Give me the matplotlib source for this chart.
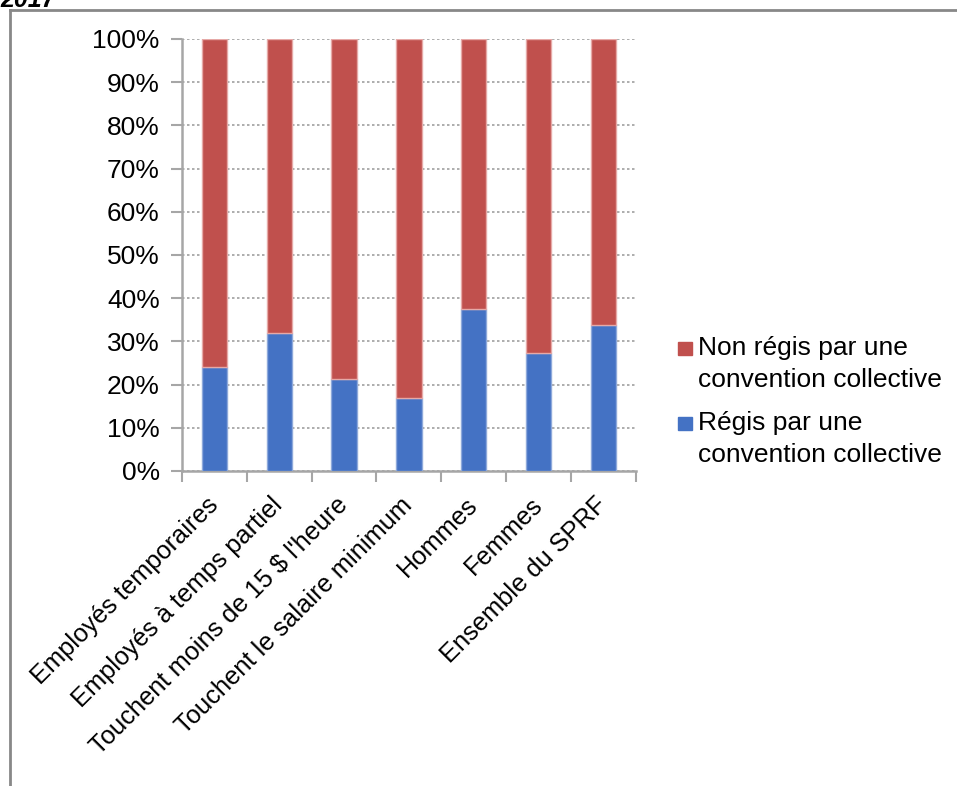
import numpy as np
import matplotlib.pyplot as plt
from matplotlib.lines import Line2D
from matplotlib.patches import Rectangle

plt.rcParams['font.family'] = ['Liberation Sans', 'DejaVu Sans']

# données
categories = ['Employés temporaires', 'Employés à temps partiel',
              'Touchent moins de 15 $ l\'heure', 'Touchent le salaire minimum',
              'Hommes', 'Femmes', 'Ensemble du SPRF']
regis = [24.0, 31.9, 21.2, 17.0, 37.6, 27.2, 33.9]
non_regis = [100 - v for v in regis]
series_labels = ['Non régis par une\nconvention collective',
                 'Régis par une\nconvention collective']
yticks = list(range(0, 101, 10))

blue = '#4472C4'
red = '#C0504D'

fig = plt.figure(figsize=(9.57, 7.86), dpi=100)
ax = fig.add_axes([0.1902, 0.4008, 0.4741, 0.5496])

x = np.arange(len(categories))
ax.bar(x, regis, width=0.39, color=blue, edgecolor='#8EA9DB', linewidth=1, zorder=3)
ax.bar(x, non_regis, width=0.39, bottom=regis, color=red, edgecolor='#E6A9A7',
       linewidth=1, zorder=3)

ax.set_xlim(-0.5, len(categories) - 0.5)
ax.set_ylim(0, 100)
ax.set_yticks(yticks)
ax.set_yticklabels([f'{t}%' for t in yticks], fontsize=19)
ax.yaxis.grid(True, linestyle=(0, (1.5, 1.5)), color='#A0A0A0', linewidth=1.2, zorder=0)

ax.set_xticks(x)
ax.set_xticklabels(categories, fontsize=18.3, rotation=45, ha='right', va='center',
                   rotation_mode='anchor')
ax.set_xticks(np.arange(len(categories) + 1) - 0.5, minor=True)
ax.tick_params(axis='x', which='major', length=0, pad=22)
ax.tick_params(axis='x', which='minor', length=8, width=1.5, color='#A6A6A6')
ax.tick_params(axis='y', length=8, width=1.5, color='#A6A6A6', pad=8)

for side in ['top', 'right']:
    ax.spines[side].set_visible(False)
for side in ['left', 'bottom']:
    ax.spines[side].set_color('#A6A6A6')
    ax.spines[side].set_linewidth(1.8)

# légende
W, H = 957, 786
leg_colors = [red, blue]
leg_tops = [342, 417]
for col, top, lab in zip(leg_colors, leg_tops, series_labels):
    fig.add_artist(Rectangle((678 / W, 1 - (top + 13) / H), 14 / W, 13 / H,
                             transform=fig.transFigure, color=col))
    fig.text(698 / W, 1 - (top - 6) / H, lab, fontsize=19, va='top', ha='left',
             linespacing=1.4)

# cadre et titre coupé
fig.add_artist(Line2D([10 / W, 1], [1 - 10 / H, 1 - 10 / H], transform=fig.transFigure,
                      color='#888888', linewidth=2))
fig.add_artist(Line2D([10 / W, 10 / W], [1 - 10 / H, 0], transform=fig.transFigure,
                      color='#888888', linewidth=2))
fig.text(0, 1 - 7 / H, '2017', fontsize=18, fontweight='bold', fontstyle='italic',
         va='baseline', ha='left')

fig.savefig('out.png', dpi=100)
